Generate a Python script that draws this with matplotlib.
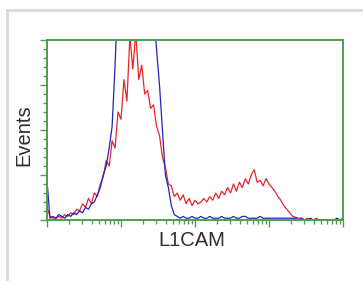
import matplotlib
matplotlib.use("Agg")
import matplotlib.pyplot as plt
from matplotlib.lines import Line2D
from matplotlib.ticker import LogLocator, MultipleLocator, NullFormatter
import numpy as np

# channel positions in decades (log10 of fluorescence), 101 bins over 4 decades
decades = np.linspace(0.0, 4.0, 101)

# control (blue), % of axis height; values above 100 run off the top
blue_counts = [
    22, 1, 2, 1, 3, 2, 1, 3, 2, 4,
    3, 5, 4, 7, 6, 9, 10, 14, 18, 25,
    30, 40, 52, 86, 130, 140, 150, 145, 150, 155,
    150, 148, 152, 145, 140, 130, 115, 95, 75, 50,
    25, 18, 8, 3, 2, 1, 2, 1, 1, 2,
    1, 1, 2, 1, 1, 2, 1, 1, 1, 2,
    1, 1, 1, 2, 1, 1, 2, 2, 1, 1,
    1, 1, 2, 1, 1, 1, 1, 1, 1, 1,
    1, 1, 1, 1, 1, 0, 1, 0, 0, 1,
    0, 0, 0, 0, 0, 0, 0, 0, 1, 0,
    1,
]

# L1CAM stained (red)
red_counts = [
    7, 2, 1, 1, 2, 1, 3, 2, 4, 3,
    6, 5, 9, 7, 12, 9, 15, 13, 20, 24,
    33, 30, 44, 40, 60, 56, 78, 66, 102, 84,
    104, 78, 86, 70, 72, 62, 64, 52, 47, 35,
    29, 20, 19, 13, 15, 11, 14, 9, 12, 8,
    11, 9, 10, 12, 10, 13, 11, 15, 12, 16,
    14, 18, 15, 20, 16, 21, 18, 23, 20, 25,
    28, 21, 22, 19, 23, 20, 18, 16, 13, 11,
    8, 6, 4, 2, 1.5, 1, 1, 0, 1, 0,
    0, 1, 0, 0, 0, 0, 0, 0, 0, 0,
    0,
]

axis_green = "#4c9f4c"
text_grey = "#2e2e2e"

fig = plt.figure(figsize=(3.63, 2.81), dpi=100)
fig.patch.set_facecolor("white")

# light grey frame of the original panel
fig.add_artist(Line2D([7 / 363, 7 / 363], [0, 1 - 10 / 281], color="#d9d9d9", lw=2))
fig.add_artist(Line2D([7 / 363, 1], [1 - 10 / 281, 1 - 10 / 281], color="#d9d9d9", lw=2))

ax = fig.add_axes((47 / 363, 61 / 281, 296 / 363, 180 / 281))
x_vals = 10 ** decades
ax.plot(x_vals, red_counts, color="#e4262b", lw=0.9)
ax.plot(x_vals, blue_counts, color="#2323b8", lw=0.9)

ax.set_xscale("log")
ax.set_xlim(1, 1e4)
ax.set_ylim(0, 100)

ax.xaxis.set_major_locator(LogLocator(base=10, numticks=10))
ax.xaxis.set_minor_locator(LogLocator(base=10, subs=np.arange(2, 10), numticks=10))
ax.xaxis.set_major_formatter(NullFormatter())
ax.xaxis.set_minor_formatter(NullFormatter())
ax.yaxis.set_major_locator(MultipleLocator(25))
ax.yaxis.set_minor_locator(MultipleLocator(5))
ax.yaxis.set_major_formatter(NullFormatter())

ax.tick_params(which="major", direction="out", length=5, width=1, color=axis_green)
ax.tick_params(which="minor", direction="out", length=3, width=1, color=axis_green)

for spine in ax.spines.values():
    spine.set_color(axis_green)
    spine.set_linewidth(1.4)

fig.text(192 / 363, 1 - 241 / 281, "L1CAM", ha="center", va="center",
         fontsize=14.5, family="Liberation Sans", color=text_grey)
fig.text(24 / 363, 1 - 135 / 281, "Events", ha="center", va="center", rotation=90,
         fontsize=14.5, family="Liberation Sans", color=text_grey)

fig.savefig("out.png", dpi=100)
